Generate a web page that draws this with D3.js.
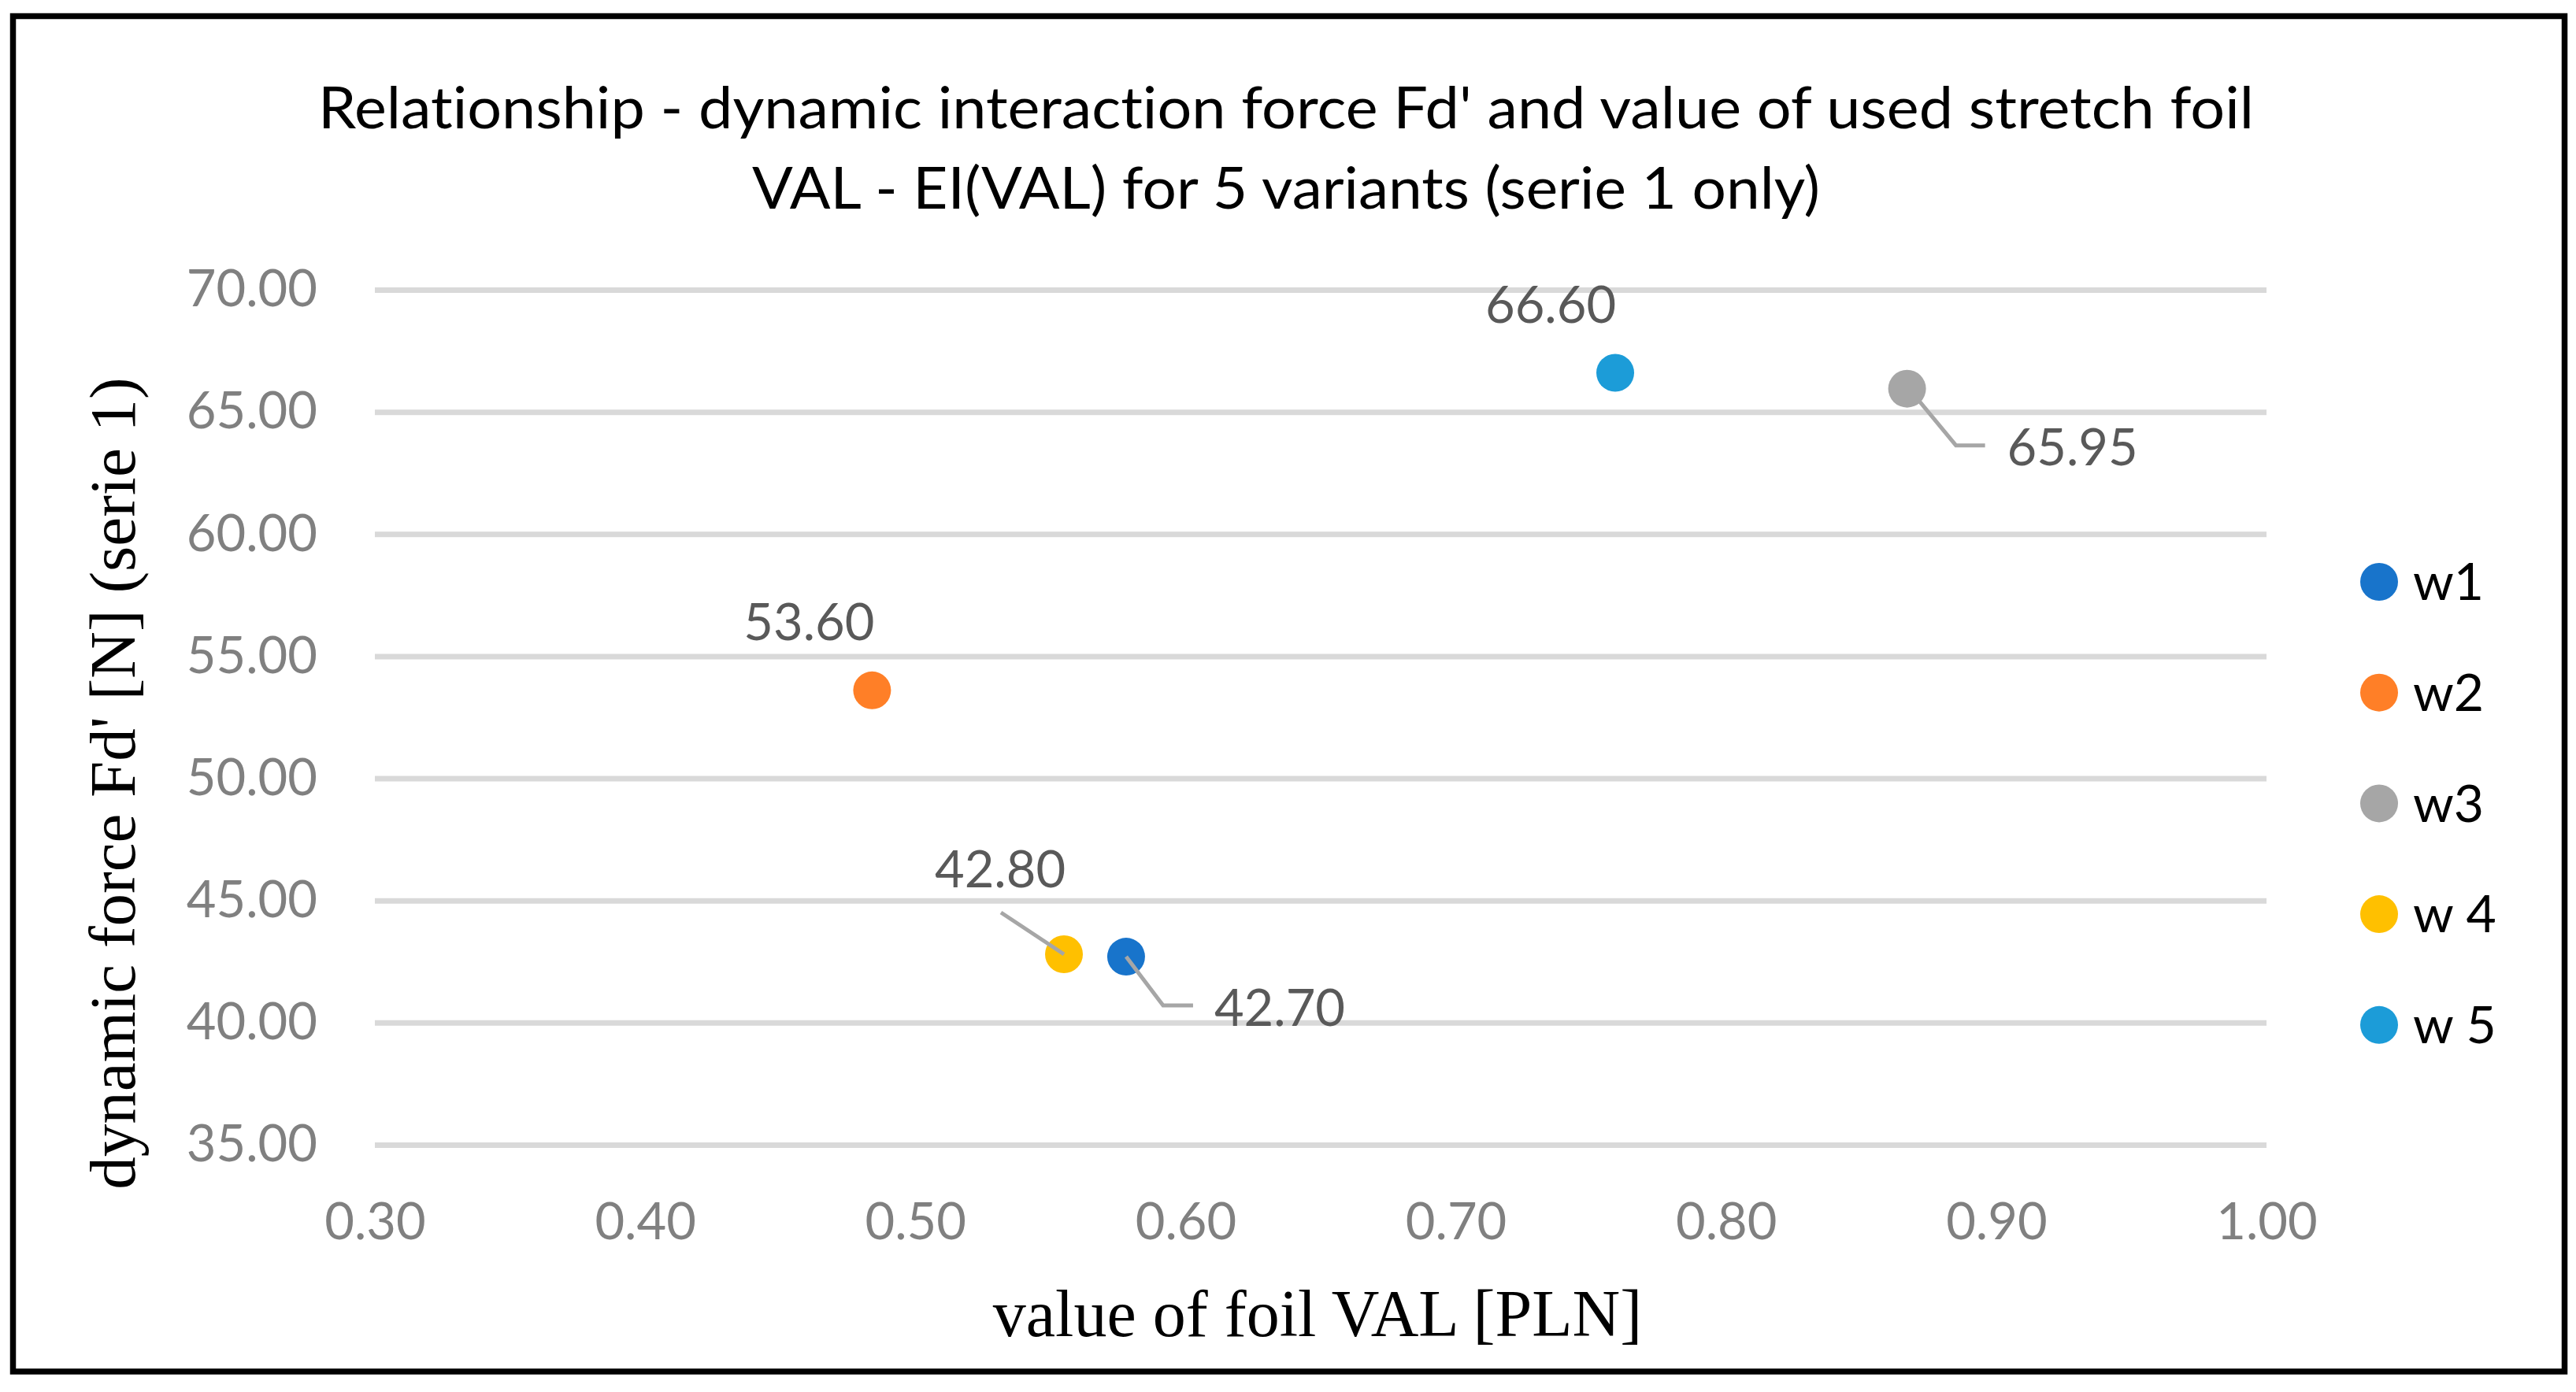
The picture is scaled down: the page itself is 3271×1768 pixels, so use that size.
<!DOCTYPE html>
<html>
<head>
<meta charset="utf-8">
<script src="https://d3js.org/d3.v7.min.js"></script>
<style>
    html, body { margin: 0; padding: 0; background: #fff; }
    svg { display: block; }
    text { font-variant-ligatures: none; font-feature-settings: "liga" 0, "clig" 0; }
</style>
</head>
<body>
<div id="chart"></div>
<script>
// series data
var variants = ['w1', 'w2', 'w3', 'w 4', 'w 5'];
var foilValue = [0.578, 0.484, 0.867, 0.555, 0.759];
var dynForce = [42.70, 53.60, 65.95, 42.80, 66.60];
var pointColors = ['#1874CB', '#FF7F27', '#A6A6A6', '#FFC000', '#1C9CD8'];

// axis ticks
var xTicks = [0.30, 0.40, 0.50, 0.60, 0.70, 0.80, 0.90, 1.00];
var yTicks = [35, 40, 45, 50, 55, 60, 65, 70];

var titleLines = [
    "Relationship - dynamic interaction force Fd' and value of used stretch foil",
    "VAL - EI(VAL) for 5 variants (serie 1 only)"
];
var xTitle = 'value of foil VAL [PLN]';
var yTitle = "dynamic force Fd' [N] (serie 1)";

var W = 3271, H = 1768;
var plot = {left: 476, right: 2878, top: 368, bottom: 1454};

// where each data label sits relative to its point (px), plus leader line
var labelLayout = [
    {dx: 112, dy: 88, anchor: 'start', leader: [[0, 0], [47, 62], [85, 62]]},
    {dx: -80, dy: -64, anchor: 'middle', leader: null},
    {dx: 127, dy: 97, anchor: 'start', leader: [[14, 14], [62, 72], [99, 72]]},
    {dx: -81, dy: -85, anchor: 'middle', leader: [[-80, -53], [0, 0]]},
    {dx: -82, dy: -63, anchor: 'middle', leader: null}
];

var svg = d3.select('#chart').append('svg')
    .attr('width', W)
    .attr('height', H);

svg.append('rect')
    .attr('x', 0).attr('y', 0)
    .attr('width', W).attr('height', H)
    .attr('fill', '#fff');

// outer frame
svg.append('rect')
    .attr('x', 16.5).attr('y', 20.5)
    .attr('width', 3240).attr('height', 1721.5)
    .attr('fill', 'none')
    .attr('stroke', '#000')
    .attr('stroke-width', 7.5);

var x = d3.scaleLinear().domain([0.3, 1.0]).range([plot.left, plot.right]);
var y = d3.scaleLinear().domain([35, 70]).range([plot.bottom, plot.top]);

// y axis + gridlines
var yAxis = svg.append('g')
    .attr('transform', 'translate(' + plot.left + ',0)')
    .call(d3.axisLeft(y)
        .tickValues(yTicks)
        .tickFormat(d3.format('.2f'))
        .tickSize(-(plot.right - plot.left))
        .tickPadding(73));
yAxis.select('.domain').remove();
yAxis.selectAll('.tick line')
    .attr('stroke', '#D9D9D9')
    .attr('stroke-width', 7);
yAxis.selectAll('.tick text')
    .attr('fill', '#808080')
    .style('font-family', 'Lato')
    .style('font-size', '65px');

// x axis labels only
var xAxis = svg.append('g')
    .attr('transform', 'translate(0,' + plot.bottom + ')')
    .call(d3.axisBottom(x)
        .tickValues(xTicks)
        .tickFormat(d3.format('.2f'))
        .tickSize(0)
        .tickPadding(74));
xAxis.select('.domain').remove();
xAxis.selectAll('.tick line').remove();
xAxis.selectAll('.tick text')
    .attr('fill', '#808080')
    .style('font-family', 'Lato')
    .style('font-size', '65px');

// title
var titleWidths = [2458, 1356];
svg.selectAll('text.title')
    .data(titleLines)
    .enter().append('text')
    .attr('class', 'title')
    .attr('x', 1633)
    .attr('y', function(d, i) { return 163 + i * 102; })
    .attr('text-anchor', 'middle')
    .attr('textLength', function(d, i) { return titleWidths[i]; })
    .attr('lengthAdjust', 'spacingAndGlyphs')
    .style('font-family', 'Lato')
    .style('font-size', '73px')
    .attr('fill', '#000')
    .text(function(d) { return d; });

// axis titles
svg.append('text')
    .attr('x', (plot.left + plot.right) / 2 - 4)
    .attr('y', 1697)
    .attr('text-anchor', 'middle')
    .style('font-family', 'Liberation Serif')
    .style('font-size', '84px')
    .attr('fill', '#000')
    .text(xTitle);

svg.append('text')
    .attr('transform', 'translate(171,995) rotate(-90)')
    .attr('text-anchor', 'middle')
    .style('font-family', 'Liberation Serif')
    .style('font-size', '83px')
    .attr('fill', '#000')
    .text(yTitle);

// points
var pts = variants.map(function(name, i) {
    return {name: name, vx: foilValue[i], vy: dynForce[i], color: pointColors[i], lay: labelLayout[i]};
});

svg.append('g').selectAll('circle')
    .data(pts)
    .enter().append('circle')
    .attr('cx', function(d) { return x(d.vx); })
    .attr('cy', function(d) { return y(d.vy); })
    .attr('r', 24)
    .attr('fill', function(d) { return d.color; });

// leader lines (drawn over the markers like in excel)
var line = d3.line();
svg.append('g').selectAll('path')
    .data(pts.filter(function(d) { return d.lay.leader; }))
    .enter().append('path')
    .attr('d', function(d) {
        var px = x(d.vx), py = y(d.vy);
        return line(d.lay.leader.map(function(p) { return [px + p[0], py + p[1]]; }));
    })
    .attr('fill', 'none')
    .attr('stroke', '#A6A6A6')
    .attr('stroke-width', 5);

// data labels
svg.append('g').selectAll('text')
    .data(pts)
    .enter().append('text')
    .attr('x', function(d) { return x(d.vx) + d.lay.dx; })
    .attr('y', function(d) { return y(d.vy) + d.lay.dy; })
    .attr('text-anchor', function(d) { return d.lay.anchor; })
    .style('font-family', 'Lato')
    .style('font-size', '65px')
    .attr('fill', '#595959')
    .text(function(d) { return d3.format('.2f')(d.vy); });

// legend
var legend = svg.append('g').selectAll('g')
    .data(pts)
    .enter().append('g')
    .attr('transform', function(d, i) { return 'translate(3021,' + (739 + i * 140.7) + ')'; });
legend.append('circle')
    .attr('r', 24)
    .attr('fill', function(d) { return d.color; });
legend.append('text')
    .attr('x', 43)
    .attr('dy', '0.35em')
    .style('font-family', 'Lato')
    .style('font-size', '66px')
    .attr('fill', '#000')
    .text(function(d) { return d.name; });
</script>
</body>
</html>
